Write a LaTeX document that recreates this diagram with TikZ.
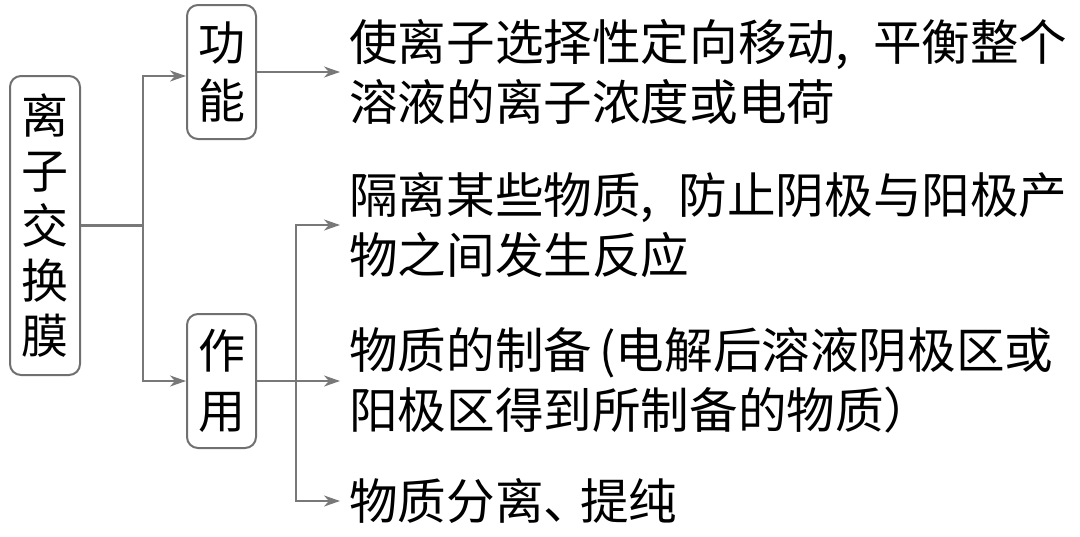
\documentclass[tikz,border=0pt]{standalone}
\usepackage{fontspec}
\newfontfamily\cjk{Noto Sans CJK SC}
\usetikzlibrary{arrows.meta}
\definecolor{boxgray}{HTML}{707070}
\definecolor{linegray}{HTML}{787878}
\begin{document}
\begin{tikzpicture}[x=1pt,y=-1pt,
  box/.style={draw=boxgray, line width=2pt, rounded corners=11pt, inner sep=0pt, align=center, font=\cjk\fontsize{47}{55}\selectfont},
  txt/.style={anchor=west, inner xsep=9pt, inner ysep=0pt, align=left, font=\cjk\fontsize{48.6}{60}\selectfont},
  conn/.style={draw=linegray, line width=2.2pt},
  arr/.style={conn, -{Stealth[length=16pt,width=11pt,inset=5pt]}}]
\useasboundingbox (0,0) rectangle (1080,536);
\node[box, minimum width=70pt, minimum height=299pt] (L) at (45,225.5) {离\\子\\交\\换\\膜};
\node[box, minimum width=69pt, minimum height=134pt, font=\cjk\fontsize{47}{58}\selectfont] (G) at (221.5,72) {功\\能};
\node[box, minimum width=69pt, minimum height=134pt, font=\cjk\fontsize{47}{60}\selectfont] (Z) at (221.5,381) {作\\用};
\node[txt] (T1) at (340,71.5) {使离子选择性定向移动,\kern0.5em平衡整个\\溶液的离子浓度或电荷};
\node[txt] (T2) at (340,225) {隔离某些物质,\kern0.5em防止阴极与阳极产\\物之间发生反应};
\node[txt] (T3) at (340,380) {物质的制备\kern0.15em(电解后溶液阴极区或\\阳极区得到所制备的物质）};
\node[txt] (T4) at (340,501) {物质分离、\kern-0.25em提纯};
\coordinate (J) at (143,225.5);
\coordinate (K) at (296,381);
\draw[conn] (L.east) -- (J);
\draw[arr] (J) |- ([yshift=-4pt]G.west);
\draw[arr] (J) |- (Z.west);
\draw[arr] (G.east) -- (G.east -| T1.west);
\draw[arr] (Z.east) -- (Z.east -| T3.west);
\draw[arr] (K) |- (T2.west);
\draw[arr] (K) |- (T4.west);
\end{tikzpicture}
\end{document}
